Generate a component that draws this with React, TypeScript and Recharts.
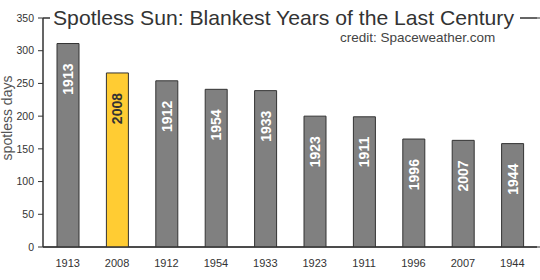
import React from 'react';
import { BarChart, Bar, XAxis, YAxis, CartesianGrid, Cell, LabelList, ReferenceArea } from 'recharts';

const years = ['1913', '2008', '1912', '1954', '1933', '1923', '1911', '1996', '2007', '1944'];
const spotlessDays = [311, 266, 254, 241, 239, 200, 199, 165, 163, 158];
const highlightYear = '2008';
const yTicks = [0, 50, 100, 150, 200, 250, 300, 350];
const boundaryTicks = [0, 1, 2, 3, 4, 5, 6, 7, 8, 9, 10];
const titleText = 'Spotless Sun: Blankest Years of the Last Century';
const creditText = 'credit: Spaceweather.com';
const yLabelText = 'spotless days';

const data = years.map((y, i) => ({ year: y, days: spotlessDays[i] }));

const FONT = "'Liberation Sans', Arial, sans-serif";
const GRAY = '#808080';
const YELLOW = '#FFCC33';
const LINE = '#333333';

const BarLabel = (props: any) => {
  const { x, y, width, value } = props;
  const cx = x + width / 2;
  const ty = y + 20;
  const isHi = value === highlightYear;
  return (
    <text
      x={cx}
      y={ty}
      transform={`rotate(-90 ${cx} ${ty})`}
      textAnchor="end"
      dominantBaseline="central"
      fontSize={14}
      fontWeight="bold"
      fontFamily={FONT}
      fill={isHi ? '#333333' : '#ffffff'}
    >
      {value}
    </text>
  );
};

export default function App() {
  return (
    <div style={{ position: 'absolute', left: 0, top: 0, width: 540, height: 280, background: '#fff' }}>
      <BarChart
        width={540}
        height={280}
        data={data}
        margin={{ top: 18, right: 3, bottom: 0, left: 0 }}
        style={{ fontFamily: FONT }}
      >
        <CartesianGrid vertical={false} stroke={LINE} strokeOpacity={1} />
        <XAxis
          xAxisId="b"
          type="number"
          domain={[0, 10]}
          allowDataOverflow
          ticks={boundaryTicks}
          tick={false}
          tickSize={4}
          height={0}
          axisLine={false}
          tickLine={{ stroke: LINE }}
        />
        <XAxis
          xAxisId="cat"
          dataKey="year"
          height={33}
          tickSize={0}
          tickMargin={12}
          axisLine={{ stroke: LINE }}
          tickLine={false}
          tick={{ fill: '#333', fontSize: 11, fontFamily: FONT }}
          interval={0}
        />
        <YAxis
          yAxisId="l"
          domain={[0, 350]}
          ticks={yTicks}
          width={43}
          tickSize={5}
          tickMargin={4}
          axisLine={{ stroke: LINE }}
          tickLine={{ stroke: LINE }}
          tick={{ fill: '#333', fontSize: 10.5, fontFamily: FONT }}
          allowDataOverflow
        />
        <ReferenceArea
          xAxisId="b"
          yAxisId="l"
          x1={0}
          x2={10}
          y1={0}
          y2={350}
          fill="none"
          fillOpacity={0}
          stroke={LINE}
          strokeOpacity={1}
          ifOverflow="visible"
        />
        <Bar
          dataKey="days"
          xAxisId="cat"
          yAxisId="l"
          barSize={22}
          stroke={LINE}
          strokeWidth={1}
          isAnimationActive={false}
        >
          {data.map((d) => (
            <Cell key={d.year} fill={d.year === highlightYear ? YELLOW : GRAY} />
          ))}
          <LabelList dataKey="year" content={BarLabel} />
        </Bar>
      </BarChart>
      <svg
        width={540}
        height={280}
        style={{ position: 'absolute', left: 0, top: 0, pointerEvents: 'none' }}
      >
        <rect x={50} y={4} width={470} height={22} fill="#fff" />
        <text
          x={53}
          y={25}
          fontSize={21}
          fontFamily={FONT}
          fill="#333"
          textLength={461}
          lengthAdjust="spacingAndGlyphs"
        >
          {titleText}
        </text>
        <text x={340} y={42} fontSize={13.5} fontFamily={FONT} fill="#444">
          {creditText}
        </text>
        <text
          x={7}
          y={118}
          transform="rotate(-90 7 118)"
          textAnchor="middle"
          dominantBaseline="central"
          fontSize={14}
          fontFamily={FONT}
          fill="#555"
        >
          {yLabelText}
        </text>
      </svg>
    </div>
  );
}
